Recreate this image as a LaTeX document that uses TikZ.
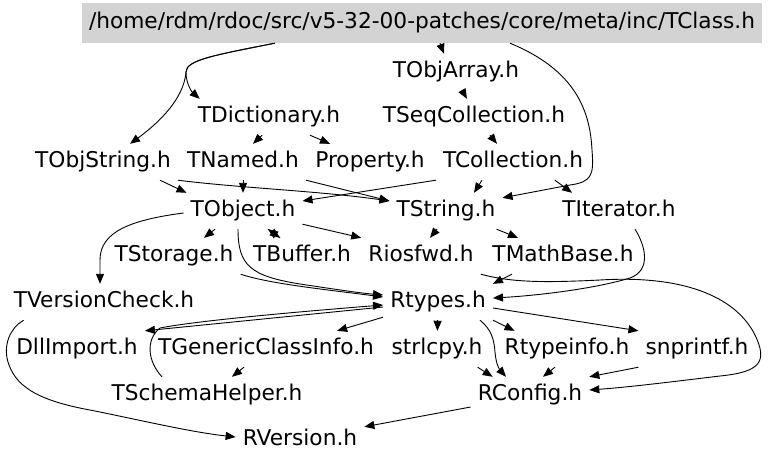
\documentclass[tikz,border=0pt]{standalone}
\usepackage{fontspec}
\setmainfont{DejaVu Sans}
\usetikzlibrary{arrows.meta}
\definecolor{rootgray}{HTML}{D3D3D3}
\tikzset{
  hfile/.style={
    rectangle, draw=none, font=\fontsize{21.7}{25}\selectfont,
    text height=16.5pt, text depth=5.2pt, minimum height=36pt,
    inner xsep=7pt, inner ysep=0pt
  },
  rootfile/.style={hfile, fill=rootgray, minimum width=676pt, minimum height=40pt},
  arr/.style={-{Triangle[length=10pt,width=8pt]}, line width=0.9pt, black}
}
\begin{document}
\begin{tikzpicture}[x=1pt,y=-1pt]
\useasboundingbox (0,0) rectangle (768,464);

\node[rootfile] (tclass) at (422,23) {/home/rdm/rdoc/src/v5-32-00-patches/core/meta/inc/TClass.h};
\node[hfile] (tobjarray) at (456,72) {TObjArray.h};
\node[hfile] (tdict) at (269,117) {TDictionary.h};
\node[hfile] (tseqcoll) at (474,117) {TSeqCollection.h};
\node[hfile] (tobjstring) at (103,162) {TObjString.h};
\node[hfile] (tnamed) at (243,162) {TNamed.h};
\node[hfile] (property) at (370,162) {Property.h};
\node[hfile] (tcollection) at (513,162) {TCollection.h};
\node[hfile] (tobject) at (243,211) {TObject.h};
\node[hfile] (tstring) at (446,211) {TString.h};
\node[hfile] (titerator) at (619,211) {TIterator.h};
\node[hfile] (tstorage) at (174,256) {TStorage.h};
\node[hfile] (tbuffer) at (302,256) {TBuffer.h};
\node[hfile] (riosfwd) at (421,256) {Riosfwd.h};
\node[hfile] (tmathbase) at (563,256) {TMathBase.h};
\node[hfile] (tversion) at (104,302) {TVersionCheck.h};
\node[hfile] (rtypes) at (438,302) {Rtypes.h};
\node[hfile] (dllimport) at (77,349) {DllImport.h};
\node[hfile] (tgeneric) at (266,349) {TGenericClassInfo.h};
\node[hfile] (strlcpy) at (437,349) {strlcpy.h};
\node[hfile] (rtypeinfo) at (567,349) {Rtypeinfo.h};
\node[hfile] (snprintf) at (697,349) {snprintf.h};
\node[hfile] (tschema) at (207,395) {TSchemaHelper.h};
\node[hfile] (rconfig) at (530,395) {RConfig.h};
\node[hfile] (rversion) at (300,440) {RVersion.h};

\draw[arr] ([xshift=193pt]tclass.south west) .. controls (215,55) and (186,60) .. (186,72)
  .. controls (186,84) and (192,92) .. ([xshift=9pt]tdict.north west);
\draw[arr] ([xshift=193pt]tclass.south west) .. controls (215,55) and (186,60) .. (186,72)
  .. controls (184,98) and (160,122) .. ([xshift=27pt]tobjstring.north);
\draw[arr] ([xshift=18pt]tclass.south) -- ([xshift=-12pt]tobjarray.north);
\draw[arr] ([xshift=6pt]tobjarray.south) -- ([xshift=-7pt]tseqcoll.north);
\draw[arr] ([xshift=16pt]tseqcoll.south) -- ([xshift=-16pt]tcollection.north);
\draw[arr] ([xshift=-7pt]tdict.south) -- ([xshift=10pt]tnamed.north);
\draw[arr] ([xshift=41pt]tdict.south) -- ([xshift=-40pt]property.north);
\draw[arr] ([xshift=88pt]tclass.south) .. controls (575,70) and (590,110) .. (592,150)
  .. controls (594,175) and (592,182) .. (570,185) -- ([yshift=-5pt]tstring.north east);
\draw[arr] ([xshift=-31pt]tcollection.south) -- ([xshift=28pt]tstring.north);
\draw[arr] ([xshift=42pt]tcollection.south) -- ([xshift=-47pt]titerator.north);
\draw[arr] (tcollection.south west) -- ([yshift=10pt]tobject.east);
\draw[arr] (tnamed) -- (tobject);
\draw[arr] ([xshift=57pt]tobjstring.south) -- ([xshift=3pt]tobject.north west);
\draw[arr] (tobjstring.south east) .. controls (240,188) and (320,191) .. ([yshift=10pt]tstring.west);
\draw[arr] (tnamed.south east) -- ([yshift=10pt]tstring.west);
\draw[arr] ([xshift=-28pt]tobject.south) -- ([xshift=30pt]tstorage.north);
\draw[arr] ([xshift=25pt]tobject.south) -- ([xshift=-22pt]tbuffer.north);
\draw[arr] ([xshift=-22pt]tbuffer.north) -- ([xshift=25pt]tobject.south);
\draw[arr] ([yshift=5pt]tobject.south east) -- (riosfwd.north west);
\draw[arr] ([xshift=-5pt]tobject.south) .. controls (238,265) and (250,276) .. (300,284)
  .. controls (340,290) and (360,293) .. ([yshift=7pt]rtypes.west);
\draw[arr] (tstorage.south east) .. controls (270,284) and (330,290) .. ([yshift=5pt]rtypes.west);
\draw[arr] ([yshift=-2pt]tobject.west) .. controls (130,220) and (100,232) .. (100,260)
  -- ([xshift=-4pt]tversion.north);
\draw[arr] ([xshift=-9pt]tstring.south) -- ([xshift=9pt]riosfwd.north);
\draw[arr] ([xshift=-6pt]tstring.south east) -- ([xshift=-45pt]tmathbase.north);
\draw[arr] ([xshift=16pt]titerator.south) .. controls (645,245) and (652,270) .. (630,278)
  .. controls (590,290) and (530,296) .. ([yshift=4pt]rtypes.east);
\draw[arr] ([xshift=-51pt]tmathbase.south) -- (rtypes.north east);
\draw[arr] (riosfwd.south east) .. controls (510,282) and (540,283) .. (600,280)
  .. controls (680,275) and (735,295) .. (755,335)
  .. controls (768,362) and (760,372) .. (720,376)
  .. controls (670,382) and (630,387) .. ([yshift=5pt]rconfig.east);
\draw[arr] ([xshift=17pt]tversion.south west) .. controls (10,328) and (3,345) .. (8,362)
  .. controls (15,385) and (35,400) .. (90,410)
  .. controls (140,420) and (190,432) .. ([yshift=3pt]rversion.west);
\draw[arr] ([yshift=-5pt]rtypes.west) -- (dllimport.north east);
\draw[arr] ([xshift=-45pt]tschema.north) .. controls (148,362) and (145,340) .. (160,328)
  .. controls (200,320) and (320,310) .. ([yshift=-3pt]rtypes.west);
\draw[arr] ([yshift=3pt]rtypes.south west) -- ([xshift=-44pt]tgeneric.north east);
\draw[arr] (rtypes) -- (strlcpy);
\draw[arr] (rtypes.south east) -- ([xshift=17pt]rtypeinfo.north west);
\draw[arr] ([yshift=-6pt]rtypes.east) -- (snprintf.north west);
\draw[arr] ([xshift=42pt]rtypes.south) .. controls (492,330) and (494,340) .. (495,352)
  .. controls (496,365) and (500,370) .. ([xshift=-24pt]rconfig.north);
\draw[arr] ([xshift=-12pt]strlcpy.south east) -- ([xshift=22pt]rconfig.north west);
\draw[arr] ([xshift=-12pt]rtypeinfo.south) -- ([xshift=13pt]rconfig.north);
\draw[arr] (snprintf.south west) -- (rconfig.north east);
\draw[arr] ([xshift=-22pt]tgeneric.south) -- ([xshift=25pt]tschema.north);
\draw[arr] ([yshift=-12pt]rconfig.west) -- ([yshift=-5pt]rversion.north east);

\end{tikzpicture}
\end{document}
